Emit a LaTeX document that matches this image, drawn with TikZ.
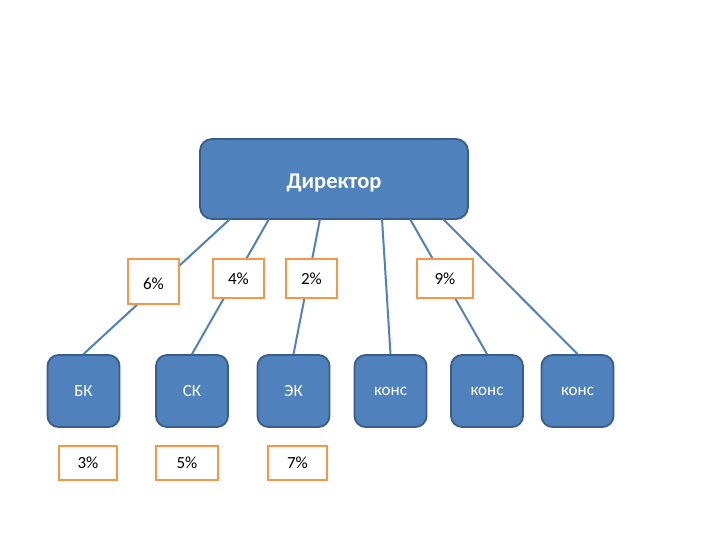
\documentclass[tikz,border=0pt]{standalone}
\usepackage{fontspec}
\setmainfont{Carlito}
\definecolor{boxfill}{HTML}{4F81BD}
\definecolor{boxline}{HTML}{385D8A}
\definecolor{pctline}{HTML}{F79646}
\begin{document}
\begin{tikzpicture}[x=1pt,y=-1pt,
  boss/.style={draw=boxline,line width=1.8pt,fill=boxfill,rounded corners=12pt,
    minimum width=268pt,minimum height=80pt,inner sep=0pt,text=white,
    text height=19pt,text depth=0pt,
    font=\fontsize{22.5}{27}\selectfont\bfseries},
  unit/.style={draw=boxline,line width=1.8pt,fill=boxfill,rounded corners=11pt,
    minimum width=72pt,minimum height=72pt,inner sep=0pt,text=white,
    font=\fontsize{17}{20}\selectfont},
  pct/.style={draw=pctline,line width=1.5pt,fill=white,inner sep=0pt,
    font=\fontsize{17}{20}\selectfont},
  link/.style={draw=boxfill,line width=2pt}]
\useasboundingbox (0,0) rectangle (720,540);
\node[boss] (dir) at (334,179) {Директор};
\node[unit] (bk) at (83.5,391) {БК};
\node[unit] (sk) at (192,391) {СК};
\node[unit] (ek) at (293.5,391) {ЭК};
\node[unit] (k1) at (390.5,391) {конс};
\node[unit] (k2) at (487,391) {конс};
\node[unit] (k3) at (577.5,391) {конс};
\coordinate (d1) at (230,219);
\coordinate (d2) at (269,219);
\coordinate (d3) at (320,219);
\coordinate (d4) at (382,219);
\coordinate (d5) at (410,219);
\coordinate (d6) at (443,219);
\draw[link] (d1) -- (bk.north);
\draw[link] (d2) -- (sk.north);
\draw[link] (d3) -- (ek.north);
\draw[link] (d4) -- (k1.north);
\draw[link] (d5) -- (k2.north);
\draw[link] (d6) -- (k3.north);
\node[pct,minimum width=51pt,minimum height=45pt,text height=15pt,text depth=0pt] (p6) at (153.5,281.5) {6\%};
\node[pct,minimum width=51pt,minimum height=39pt] (p4) at (238.5,278.5) {4\%};
\node[pct,minimum width=51pt,minimum height=39pt] (p2) at (311.5,278.5) {2\%};
\node[pct,minimum width=56pt,minimum height=39pt] (p9) at (445,278.5) {9\%};
\node[pct,minimum width=58pt,minimum height=34pt] (p3) at (88,463) {3\%};
\node[pct,minimum width=62pt,minimum height=34pt] (p5) at (187,463) {5\%};
\node[pct,minimum width=59pt,minimum height=34pt] (p7) at (297.5,463) {7\%};
\end{tikzpicture}
\end{document}
